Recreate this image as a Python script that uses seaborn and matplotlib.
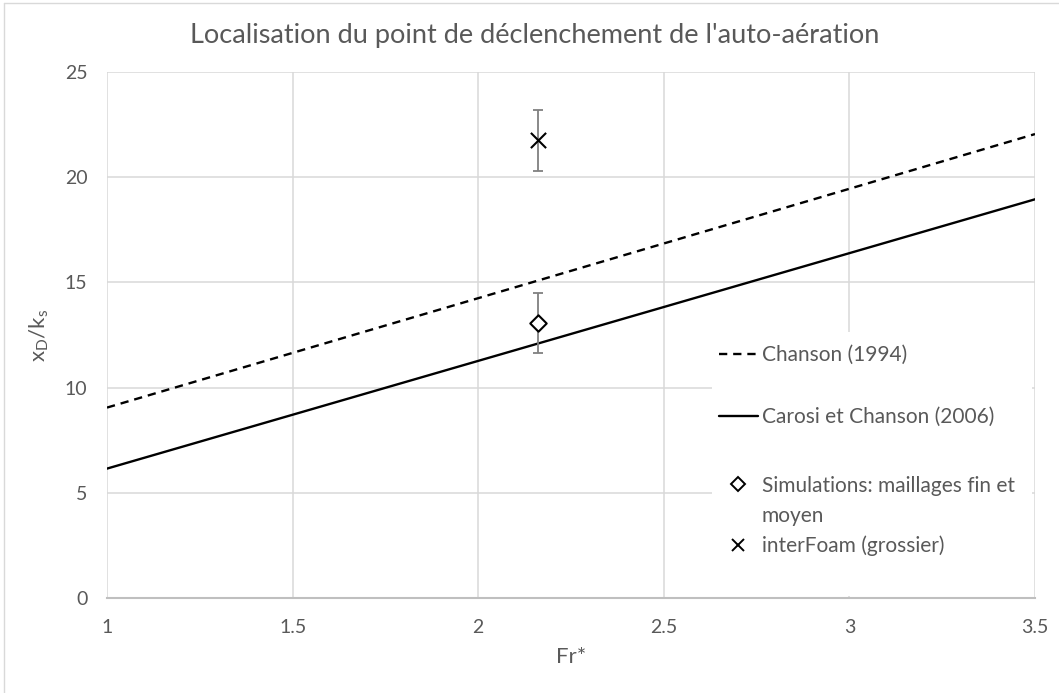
import matplotlib
matplotlib.use("Agg")
import matplotlib.pyplot as plt
import seaborn as sns
import pandas as pd
from matplotlib.lines import Line2D
from matplotlib.patches import Rectangle

# ---- data ----
fr_line = [1.0, 2.0, 3.0, 3.5]
chanson_1994 = [9.05, 14.25, 19.45, 22.05]
carosi_2006 = [6.15, 11.27, 16.39, 18.95]

sim_x = [2.16]
sim_y = [13.07]
sim_err_low = [11.65]
sim_err_high = [14.5]

foam_x = [2.16]
foam_y = [21.75]
foam_err_low = [20.3]
foam_err_high = [23.2]

title = "Localisation du point de déclenchement de l'auto-aération"
xticks = [1, 1.5, 2, 2.5, 3, 3.5]
xticklabels = ["1", "1.5", "2", "2.5", "3", "3.5"]
yticks = [0, 5, 10, 15, 20, 25]

sns.set_theme(style="whitegrid")
plt.rcParams['font.family'] = ['Lato', 'DejaVu Sans']
txt = "#595959"
grid = "#d9d9d9"
W, H = 1059, 693

fig = plt.figure(figsize=(W / 100, H / 100), dpi=100)
ax = fig.add_axes([107 / W, 1 - 598 / H, 928 / W, 526 / H])

df_lines = pd.DataFrame({
    "Fr": fr_line * 2,
    "y": chanson_1994 + carosi_2006,
    "serie": ["Chanson (1994)"] * len(fr_line) + ["Carosi et Chanson (2006)"] * len(fr_line),
})
dash = (0, (3.5, 2.5))
sns.lineplot(data=df_lines[df_lines.serie == "Chanson (1994)"], x="Fr", y="y", ax=ax,
             color="black", linewidth=1.7, linestyle=dash, legend=False)
sns.lineplot(data=df_lines[df_lines.serie == "Carosi et Chanson (2006)"], x="Fr", y="y", ax=ax,
             color="black", linewidth=1.7, legend=False)

# error bars
for xs, ys, lo, hi in [(sim_x, sim_y, sim_err_low, sim_err_high),
                       (foam_x, foam_y, foam_err_low, foam_err_high)]:
    yerr = [[y - l for y, l in zip(ys, lo)], [h - y for y, h in zip(ys, hi)]]
    ax.errorbar(xs, ys, yerr=yerr, fmt="none", ecolor="#808080", elinewidth=1.3,
                capsize=3.5, capthick=1.3, zorder=3)

sns.scatterplot(x=sim_x, y=sim_y, ax=ax, marker="D", s=70, facecolor="white",
                edgecolor="black", linewidth=1.5, zorder=4, legend=False)
sns.scatterplot(x=foam_x, y=foam_y, ax=ax, marker="x", s=120, color="black",
                linewidth=1.5, zorder=4, legend=False)

ax.set_xlim(1, 3.5)
ax.set_ylim(0, 25)
ax.set_xticks(xticks)
ax.set_xticklabels(xticklabels)
ax.set_yticks(yticks)
ax.grid(True, color=grid, linewidth=1.1)
for s in ["top", "right", "left"]:
    ax.spines[s].set_visible(False)
ax.spines["bottom"].set_color("#bfbfbf")
ax.spines["bottom"].set_linewidth(1.5)
ax.tick_params(axis="both", colors=txt, labelsize=14, length=0)
ax.tick_params(axis="x", pad=15)
ax.tick_params(axis="y", pad=14)

ax.set_xlabel("Fr*", fontsize=16, color=txt, labelpad=8)
ax.set_ylabel(r"x$_\mathregular{D}$/k$_\mathregular{s}$", fontsize=16, color=txt, labelpad=10)
fig.text(535 / W, 1 - 36 / H, title, fontsize=19.5, color=txt, ha="center", va="center")

# white legend area covering the grid
ax.add_patch(Rectangle(((712 - 107) / 928, 0.004), (1032 - 712) / 928, (596 - 330) / 526 - 0.004,
                       transform=ax.transAxes, facecolor="white", edgecolor="none", zorder=1))

leg_kw = dict(frameon=False, fontsize=15, handlelength=1.85, handletextpad=0.2,
              borderpad=0, borderaxespad=0, bbox_transform=fig.transFigure)

h1 = [Line2D([0], [0], color="black", lw=1.7, linestyle=dash),
      Line2D([0], [0], color="black", lw=1.7)]
leg1 = ax.legend(h1, ["Chanson (1994)", "Carosi et Chanson (2006)"], loc="center left",
                 bbox_to_anchor=(719 / W, 1 - 386 / H), labelspacing=2.0, **leg_kw)
for t in leg1.get_texts():
    t.set_color(txt)
ax.add_artist(leg1)

h2 = [Line2D([0], [0], marker="D", markersize=7, markerfacecolor="white",
             markeredgecolor="black", markeredgewidth=1.4, linestyle="none"),
      Line2D([], [], linestyle="none"),
      Line2D([0], [0], marker="x", markersize=9, color="black",
             markeredgewidth=1.4, linestyle="none")]
leg2 = ax.legend(h2, ["Simulations: maillages fin et", "moyen", "interFoam (grossier)"],
                 loc="center left", bbox_to_anchor=(719 / W, 1 - 516 / H),
                 labelspacing=0.48, **leg_kw)
for t in leg2.get_texts():
    t.set_color(txt)

fig.add_artist(Line2D([4 / W, 4 / W], [0, 1 - 3 / H], color=grid, lw=1, transform=fig.transFigure))
fig.add_artist(Line2D([4 / W, 1], [1 - 3 / H, 1 - 3 / H], color=grid, lw=1, transform=fig.transFigure))

fig.savefig("out.png", dpi=100)
